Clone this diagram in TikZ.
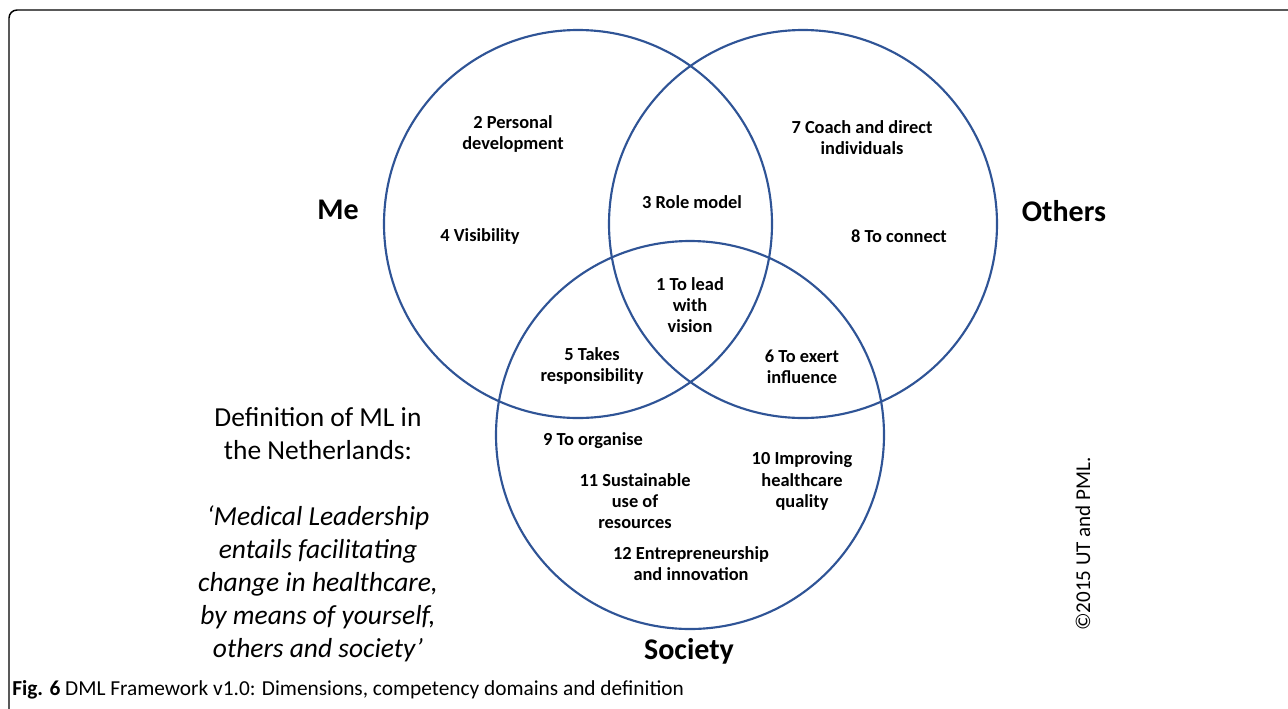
\documentclass[tikz,border=0pt]{standalone}
\usepackage{fontspec}
\setmainfont{Carlito}
\usepackage{tikz}
\usetikzlibrary{positioning}          % placement relatif
\definecolor{venn}{RGB}{47,84,150}
\tikzset{
  ring/.style={draw=venn, line width=1.6pt},
  comp/.style={font=\fontsize{13.8}{15.8}\selectfont\bfseries, align=center, inner sep=0pt},
  dim/.style={font=\fontsize{22.5}{27}\selectfont\bfseries, inner sep=0pt},
  deftext/.style={font=\fontsize{20.6}{24.8}\selectfont, align=center, inner sep=0pt}
}
\begin{document}
\begin{tikzpicture}[x=0.75pt,y=-0.75pt]
\useasboundingbox(0,0)rectangle(1288,708);
\draw[line width=1.1pt, rounded corners=6pt](9,720)--(9,10)--(1300,10);
\foreach \cx/\cy in {578/224,803/224,690/435}
\draw[ring](\cx,\cy)circle(194);
\node[dim](me) at (338,210){Me};
\node[dim](others) at (1064,211){Others};
\node[dim](society) at (689,651){Society};
\node[comp](lead) at (690,305){1 To lead\\with\\vision};
\node[comp](personal) at (513,134){2 Personal\\development};
\node[comp](role) at (692,202){3 Role model};
\node[comp](visib) at (480,236){4 Visibility};
\node[comp](takes) at (592,366){5 Takes\\responsibility};
\node[comp](exert) at (802,367){6 To exert\\influence};
\node[comp](coach) at (862,138){7 Coach and direct\\individuals};
\node[comp](connect) at (899,236){8 To connect};
\node[comp](organise) at (593,441){9 To organise};
\node[comp](quality) at (802,481){10 Improving\\healthcare\\quality};
\node[comp](sustain) at (635,501){11 Sustainable\\use of\\resources};
\node[comp](entre) at (691,564){12 Entrepreneurship\\and innovation};
\node[deftext](def) at (318,434){Definition of ML in\\the Netherlands:};
\node[deftext, font=\fontsize{20.6}{24.8}\selectfont\itshape](quote) at (318,584){‘Medical Leadership\\entails facilitating\\change in healthcare,\\by means of yourself,\\others and society’};
\node[rotate=90, font=\fontsize{15.8}{18}\selectfont, inner sep=0pt](copy) at (1083,544){©2015 UT and PML.};
\node[anchor=west, font=\fontsize{16}{19}\selectfont, inner sep=0pt](cap) at (12,690){\textbf{Fig. 6} DML Framework v1.0: Dimensions, competency domains and definition};
\end{tikzpicture}
\end{document}
